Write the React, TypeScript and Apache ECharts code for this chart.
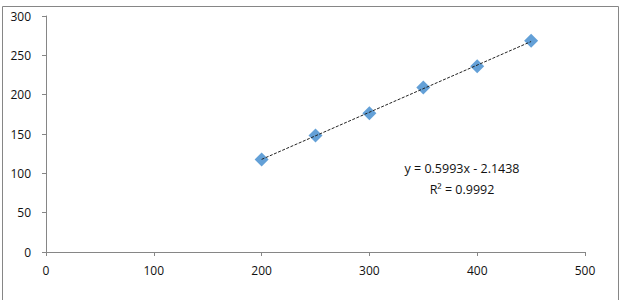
import React, { useEffect, useRef } from "react";
import * as echarts from "echarts";

const xValues = [200, 250, 300, 350, 400, 450];
const yValues = [117.5, 148, 176.5, 209, 236, 268.5];
const slope = 0.5993;
const intercept = -2.1438;
const equationText = "y = 0.5993x - 2.1438";
const r2Text = "R² = 0.9992";
const xTicks = { min: 0, max: 500, interval: 100 };
const yTicks = { min: 0, max: 300, interval: 50 };

export default function App() {
  const ref = useRef<HTMLDivElement>(null);
  useEffect(() => {
    if (!ref.current) return;
    const chart = echarts.init(ref.current, null, { renderer: "svg" });
    const x0 = xValues[0];
    const x1 = xValues[xValues.length - 1];
    const trend = [
      [x0, slope * x0 + intercept],
      [x1, slope * x1 + intercept],
    ];
    const axisLine = { show: true, lineStyle: { color: "#868686", width: 1 } };
    const axisLabel = { color: "#111", fontFamily: "Open Sans, Liberation Sans, sans-serif", fontSize: 12 };
    chart.setOption({
      animation: false,
      backgroundColor: "#fff",
      grid: { left: 46, right: 42, top: 16, bottom: 48, containLabel: false },
      xAxis: {
        type: "value",
        ...xTicks,
        axisLine,
        axisTick: { show: true, length: 4, lineStyle: { color: "#868686" } },
        splitLine: { show: false },
        axisLabel: { ...axisLabel, margin: 12 },
      },
      yAxis: {
        type: "value",
        ...yTicks,
        axisLine,
        axisTick: { show: true, length: 4, lineStyle: { color: "#868686" } },
        splitLine: { show: false },
        axisLabel: { ...axisLabel, margin: 15 },
      },
      graphic: [
        {
          type: "rect",
          shape: { x: 2.5, y: 6.5, width: 616, height: 320 },
          style: { fill: "none", stroke: "#868686", lineWidth: 1 },
          silent: true,
          z: -1,
        },
        {
          type: "text",
          x: 462,
          y: 168,
          style: {
            text: equationText,
            fill: "#111",
            font: "12.5px 'Open Sans', 'Liberation Sans', sans-serif",
            align: "center",
            verticalAlign: "middle",
          },
        },
        {
          type: "text",
          x: 462,
          y: 189,
          style: {
            text: r2Text,
            fill: "#111",
            font: "12.5px 'Open Sans', 'Liberation Sans', sans-serif",
            align: "center",
            verticalAlign: "middle",
          },
        },
      ],
      series: [
        {
          type: "line",
          data: trend,
          symbol: "none",
          lineStyle: { color: "#222", width: 1, type: [3, 1.5] },
          z: 3,
        },
        {
          type: "scatter",
          data: xValues.map((x, i) => [x, yValues[i]]),
          symbol: "diamond",
          symbolSize: [14, 14],
          itemStyle: { color: "#5B9BD5", opacity: 0.95 },
          z: 2,
        },
      ],
    });
    return () => chart.dispose();
  }, []);
  return (
    <div
      ref={ref}
      style={{ position: "absolute", left: 0, top: 0, width: 627, height: 300 }}
    />
  );
}
